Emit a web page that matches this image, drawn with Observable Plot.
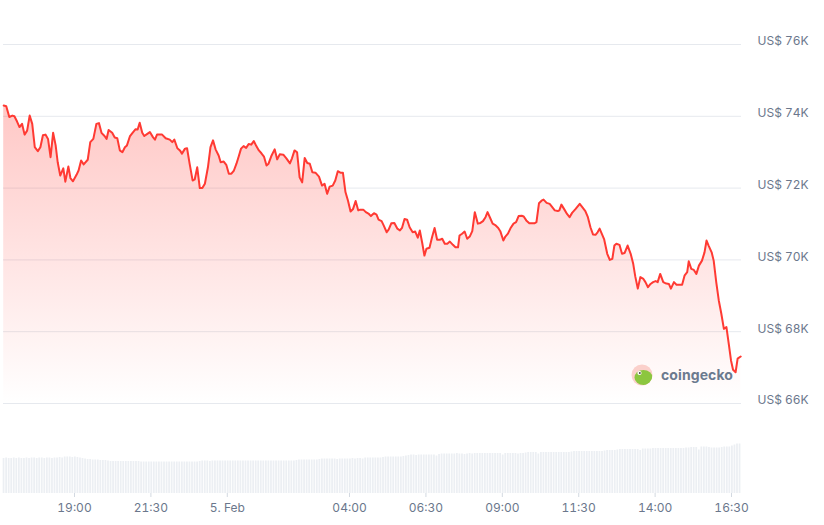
<!DOCTYPE html>
<html>
<head>
<meta charset="utf-8">
<script src="https://cdn.jsdelivr.net/npm/d3@7"></script>
<script src="https://cdn.jsdelivr.net/npm/@observablehq/plot@0.6"></script>
<style>
  html, body { margin: 0; padding: 0; background: #fff; }
  #chart { position: relative; width: 824px; height: 525px; font-family: Inter, "Noto Sans", sans-serif; }
  #chart > svg { display: block; }
  #logo { position: absolute; left: 631px; top: 364px; height: 22px; display: flex; align-items: center; gap: 8px; }
  #logo span { font: 700 14px/22px Inter, "Noto Sans", sans-serif; color: #6b7a8f; letter-spacing: 0.1px; }
</style>
</head>
<body>
<div id="chart">
  <div id="logo">
    <svg width="22" height="22" viewBox="0 0 22 22">
      <defs><clipPath id="lc"><circle cx="11" cy="11" r="10.5"/></clipPath></defs>
      <circle cx="11" cy="11" r="10.5" fill="#fbd0cb"/>
      <g clip-path="url(#lc)">
        <ellipse cx="12.5" cy="13.5" rx="9" ry="7.5" fill="#8cc63f"/>
      </g>
      <circle cx="8.5" cy="9" r="2.1" fill="#fff"/>
      <circle cx="8.8" cy="9" r="1" fill="#4a4a4a"/>
    </svg>
    <span>coingecko</span>
  </div>
</div>
<script>
// ---- data ----
const startTime = "2026-02-04T16:30";
const minutesFromStart = [
  11,16,22,28,32,37,42,47,52,57,62,67,72,78,83,88,93,98,103,108,113,117,122,128,132,138,142,147,154,158,
  163,168,176,181,187,193,198,203,209,213,217,224,229,234,239,244,249,253,259,264,270,274,278,283,287,293,298,304,308,312,
  322,329,337,342,346,352,357,361,367,371,376,382,386,391,396,401,406,412,417,422,427,433,437,443,448,453,458,463,468,473,
  477,482,487,492,497,502,507,512,517,522,527,531,537,543,548,553,560,566,573,577,582,587,592,597,602,607,612,617,623,630,
  636,641,646,651,657,662,667,672,677,682,687,692,697,702,707,711,717,722,728,732,738,743,747,753,757,763,767,772,778,784,
  789,793,798,803,808,814,819,824,828,833,837,841,847,852,857,862,867,872,877,882,887,893,898,903,906,911,916,921,926,931,
  936,942,947,952,957,961,967,971,977,982,986,992,996,1001,1006,1012,1017,1022,1028,1032,1037,1043,1049,1053,1057,1062,1067,1071,1077,1083,
  1088,1093,1099,1102,1106,1112,1117,1122,1127,1134,1142,1147,1153,1158,1163,1168,1173,1177,1181,1190,1196,1201,1206,1210,1214,1220,1225,1230,1236,1242,
  1247,1251,1256,1261,1267,1271,1276,1281,1286,1291,1295,1300,1306,1310,1317,1321,1327,1332,1338,1343,1348,1353,1356,1361,1366,1371,1376,1382,1387,1391,
  1395,1401,1405,1410,1415,1420,1425,1430,1435,1439,1443,1448,1452,1458
];
const prices = [
  74300,74280,73980,74020,74000,73860,73700,73790,73490,73600,74020,73790,73140,73030,73140,73470,73490,73370,72860,73540,73190,72720,72350,72550,72180,72600,72280,72190,72370,72490,
  72770,72660,72790,73280,73370,73790,73810,73540,73450,73370,73620,73540,73410,73390,73050,73000,73140,73190,73450,73540,73640,73630,73820,73540,73450,73510,73560,73420,73350,73490,
  73490,73390,73350,73280,73350,73110,73050,72960,73100,73110,72680,72210,72240,72580,72000,72000,72120,72580,73140,73330,73080,72910,72720,72740,72650,72400,72400,72490,72680,72910,
  73100,73170,73120,73230,73210,73310,73170,73050,72970,72880,72630,72680,72910,73080,72800,72940,72930,72830,72690,72830,73050,73000,72300,72160,72840,72700,72680,72440,72430,72320,
  72070,72120,71840,72040,72070,72210,72470,72430,72430,71890,71650,71350,71420,71640,71380,71400,71400,71330,71280,71220,71300,71260,71120,71080,70960,70770,70850,71020,71030,70870,
  70820,70890,71140,71120,70910,70770,70790,70620,70820,70450,70120,70310,70340,70630,70890,70560,70560,70590,70450,70450,70510,70420,70350,70350,70680,70730,70790,70590,70650,70800,
  71330,71010,71030,71080,71190,71330,71140,71010,70960,70890,70800,70540,70650,70730,70880,71010,71050,71220,71230,71210,71100,71020,71020,71020,71050,71580,71650,71680,71590,71560,
  71470,71380,71360,71380,71540,71400,71280,71190,71310,71420,71560,71470,71360,71190,70910,70710,70700,70770,70870,70570,70170,70000,70030,70400,70450,70420,70170,70190,70400,70170,
  69890,69540,69200,69520,69470,69380,69240,69330,69380,69410,69380,69610,69380,69350,69330,69200,69380,69310,69310,69310,69570,69660,69960,69750,69720,69610,69840,69980,70210,70540,
  70400,70210,69980,69380,68870,68500,68080,68130,67620,67200,66940,66870,67250,67310
];
// volume bars: one per 5 minutes from volumeStart (relative units)
const volumeStart = "2026-02-04T16:40";
const volumeStepMinutes = 5;
const volumes = [
  70,71,70,70,71,70,71,70,70,71,70,71,
  71,70,71,71,70,71,71,70,71,71,72,71,
  73,73,73,72,73,72,71,70,69,68,68,67,
  67,67,66,66,66,65,64,64,64,64,64,64,
  64,64,64,64,64,64,63,63,63,63,63,63,
  63,63,63,63,63,63,63,63,63,63,63,63,
  63,63,63,63,63,64,65,65,65,64,65,65,
  65,65,65,65,65,65,65,65,65,65,65,65,
  65,65,65,65,65,65,65,65,65,65,65,65,
  65,65,65,65,65,65,65,66,67,67,67,67,
  67,67,67,67,68,69,69,69,69,69,69,68,
  69,69,69,69,69,70,69,70,70,69,71,71,
  71,71,71,71,71,72,73,73,73,73,73,73,
  73,74,75,76,77,77,76,77,77,77,77,77,
  77,77,75,78,79,79,79,79,79,79,80,79,
  79,78,79,80,79,80,80,80,80,80,80,80,
  80,80,80,80,77,80,80,80,80,80,79,80,
  80,81,82,82,82,82,79,82,82,82,82,82,
  82,82,82,82,82,82,82,83,84,84,84,84,
  84,84,84,84,84,84,84,84,85,86,86,86,
  86,87,88,88,88,88,88,88,88,88,86,89,
  89,89,89,90,90,90,90,90,90,90,90,90,
  90,90,90,90,91,91,92,92,92,87,93,93,
  93,92,91,91,91,91,92,93,93,93,95,97,
  99,99
];
const priceTicks = [66000, 68000, 70000, 72000, 74000, 76000];
const timeTicks = ["2026-02-04T19:00","2026-02-04T21:30","2026-02-05T00:00","2026-02-05T04:00","2026-02-05T06:30","2026-02-05T09:00","2026-02-05T11:30","2026-02-05T14:00","2026-02-05T16:30"];
const timeTickLabels = ["19:00","21:30","5. Feb","04:00","06:30","09:00","11:30","14:00","16:30"];
const xDomain = ["2026-02-04T16:40:36", "2026-02-05T16:49:36"];

// ---- build ----
const MIN = 60000;
const t0 = new Date(startTime);
const priceData = prices.map((p, i) => ({t: new Date(+t0 + minutesFromStart[i] * MIN), p}));
const v0 = new Date(volumeStart);
const volData = volumes.map((v, i) => ({
  t1: new Date(+v0 + i * volumeStepMinutes * MIN),
  t2: new Date(+v0 + (i + 1) * volumeStepMinutes * MIN),
  v
}));
const tickDates = timeTicks.map(d => new Date(d));
const labelFor = new Map(tickDates.map((d, i) => [+d, timeTickLabels[i]]));
const domainX = xDomain.map(d => new Date(d));
const textColor = "#6b778c";

const gradientDefs = () => {
  const defs = d3.create("svg:defs");
  const g = defs.append("linearGradient").attr("id", "fade").attr("x1", 0).attr("x2", 0).attr("y1", 0).attr("y2", 1);
  g.append("stop").attr("offset", "0%").attr("stop-color", "#ff3a33").attr("stop-opacity", 0.28);
  g.append("stop").attr("offset", "100%").attr("stop-color", "#ff3a33").attr("stop-opacity", 0);
  return defs.node();
};

const priceChart = Plot.plot({
  width: 824, height: 440,
  marginTop: 44, marginBottom: 37, marginLeft: 3, marginRight: 83,
  style: {fontFamily: "Inter, 'Noto Sans', sans-serif", overflow: "visible"},
  x: {type: "time", domain: domainX, axis: null},
  y: {domain: [66000, 76000]},
  marks: [
    gradientDefs,
    Plot.gridY(priceTicks, {stroke: "#e6e9ee", strokeOpacity: 1}),
    Plot.areaY(priceData, {x: "t", y1: 66000, y2: "p", fill: "url(#fade)"}),
    Plot.lineY(priceData, {x: "t", y: "p", stroke: "#ff3a33", strokeWidth: 2}),
    Plot.axisY(priceTicks, {anchor: "right", tickSize: 0, tickPadding: 16, dy: -3, fontSize: 12,
      fill: textColor, label: null, tickFormat: d => `US$ ${d / 1000}K`})
  ]
});

const volumeChart = Plot.plot({
  width: 824, height: 85,
  marginTop: 3, marginBottom: 32, marginLeft: 3, marginRight: 83,
  style: {fontFamily: "Inter, 'Noto Sans', sans-serif", overflow: "visible"},
  x: {type: "time", domain: domainX},
  y: {domain: [0, 100], axis: null},
  marks: [
    Plot.rectY(volData, {x1: "t1", x2: "t2", y: "v", fill: "#eceff3", insetRight: 0.8}),
    Plot.axisX(tickDates, {tickSize: 4, tickPadding: 6, fontSize: 12, stroke: "#d3d9e1", fill: textColor,
      label: null, tickFormat: d => labelFor.get(+d)})
  ]
});

const chart = document.getElementById("chart");
chart.insertBefore(volumeChart, chart.firstChild);
chart.insertBefore(priceChart, chart.firstChild);
</script>
</body>
</html>
